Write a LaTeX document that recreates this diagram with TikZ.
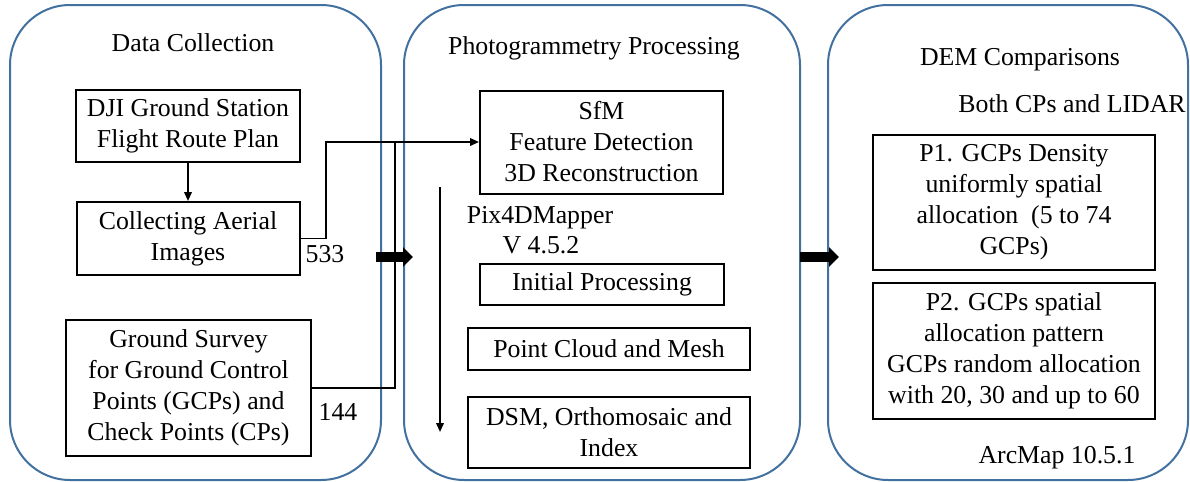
\documentclass[tikz,border=0pt]{standalone}
\usepackage{fontspec}
\setmainfont{Liberation Serif}
\usetikzlibrary{arrows.meta,positioning}

\definecolor{panelblue}{RGB}{66,113,160}

\tikzset{
  panel/.style={draw=panelblue,line width=1pt,rounded corners=30pt,inner sep=0pt},
  stepbox/.style={draw,line width=1pt,align=center,inner sep=0pt},
  thin arrow/.style={line width=0.9pt,-{Triangle[length=4.5pt,width=3.8pt]}},
  fat arrow/.style={line width=5pt,-{Triangle[length=5pt,width=9.5pt]}}
}

\begin{document}
\begin{tikzpicture}[x=0.5pt,y=-0.5pt,font=\fontsize{12.9}{15.5}\selectfont]
  \useasboundingbox (0,0) rectangle (1190,482);
  % three rounded panels
  \foreach \cx/\w/\name in {195.5/371/collpanel,602/396/photopanel,1008/360/dempanel}{
    \node[panel,minimum width=\w*0.5pt,minimum height=237.5pt] (\name) at (\cx,242.5) {};
  }
  \node (colltitle) at (193,43) {Data Collection};
  \node (phototitle) at (594,48) {Photogrammetry Processing};
  \node (demtitle) at (1020,60) {DEM Comparisons};
  \node (demsub) at (1072,104) {Both CPs and LIDAR};
  \node (arcmap) at (1057,458) {ArcMap 10.5.1};

  % data collection
  \node[stepbox,minimum width=112pt,minimum height=36pt] (dji) at (188,126)
    {DJI Ground Station\\Flight Route Plan};
  \node[stepbox,minimum width=111.5pt,minimum height=36.5pt] (collect) at (188,238.5)
    {Collecting Aerial\\Images};
  \node[stepbox,minimum width=122.5pt,minimum height=68pt] (survey) at (188.5,388)
    {Ground Survey\\for Ground Control\\Points (GCPs) and\\Check Points (CPs)};
  \node (n533) at (325,254) {533};
  \node (n144) at (338,412) {144};

  % photogrammetry
  \node[stepbox,minimum width=121.5pt,minimum height=51.5pt] (sfm) at (601.5,142)
    {SfM\\Feature Detection\\3D Reconstruction};
  \node (pixname) at (540,218) {Pix4DMapper};
  \node (pixver) at (541,245) {V 4.5.2};
  \node[stepbox,minimum width=122pt,minimum height=20.5pt] (init) at (602,284.5)
    {Initial Processing};
  \node[stepbox,minimum width=141pt,minimum height=21pt] (cloud) at (609,349)
    {Point Cloud and Mesh};
  \node[stepbox,minimum width=141pt,minimum height=35.5pt] (dsm) at (609,432.5)
    {DSM, Orthomosaic and\\Index};

  % DEM comparisons
  \node[stepbox,minimum width=141pt,minimum height=67.5pt] (pone) at (1014,202.5)
    {P1. GCPs Density\\uniformly spatial\\allocation\ \ (5 to 74\\GCPs)};
  \node[stepbox,minimum width=141pt,minimum height=68pt] (ptwo) at (1014,351)
    {P2. GCPs spatial\\allocation pattern\\GCPs random allocation\\with 20, 30 and up to 60};

  % connectors
  \coordinate (imgbend) at (326,142);
  \coordinate (gcpbend) at (395,142);
  \coordinate (flowtop) at (440,187);
  \coordinate (flowbot) at (440,432);
  \draw[thin arrow] (dji) -- (collect);
  \draw[thin arrow] (collect.east) -| (imgbend) -- (sfm.west);
  \draw[line width=0.9pt] (survey.east) -| (gcpbend);
  \draw[thin arrow] (flowtop) -- (flowbot);

  % fat arrows between panels
  \coordinate (fatA) at (376,257);
  \coordinate (fatB) at (413,257);
  \coordinate (fatC) at (800,257);
  \coordinate (fatD) at (839,257);
  \draw[fat arrow] (fatA) -- (fatB);
  \draw[fat arrow] (fatC) -- (fatD);
\end{tikzpicture}
\end{document}
